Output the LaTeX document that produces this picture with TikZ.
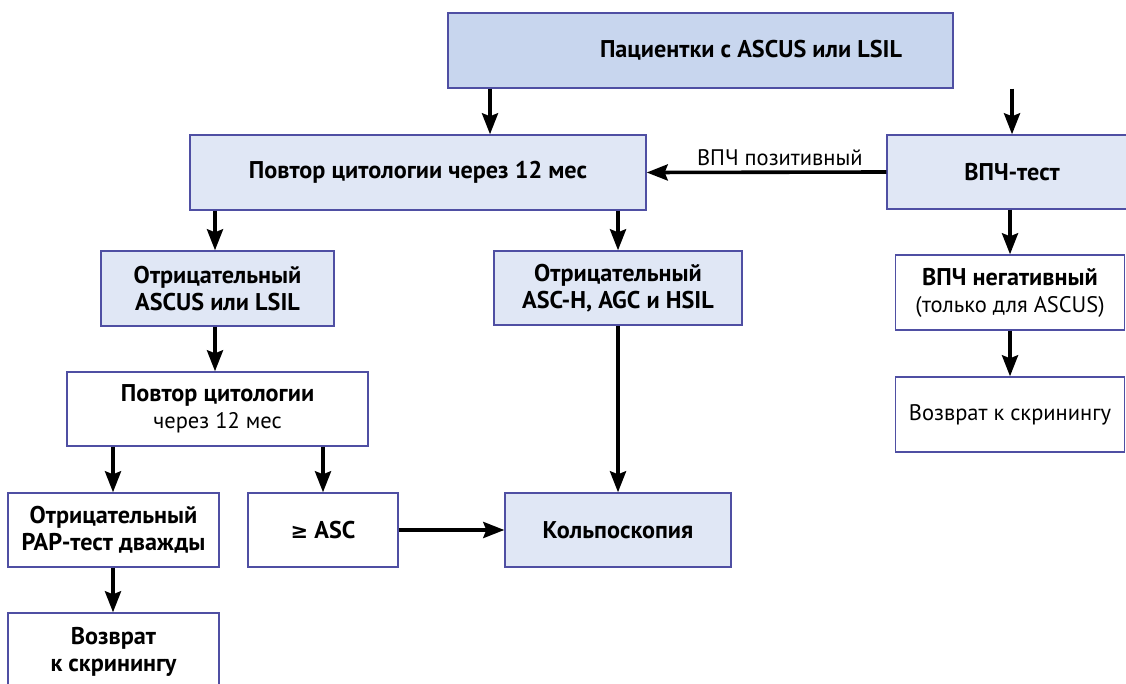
\documentclass[tikz,border=0pt]{standalone}
\usepackage{fontspec}
\setmainfont{PT Sans}
\newfontfamily\symfont{DejaVu Sans}
\usetikzlibrary{arrows.meta}
\definecolor{topfill}{HTML}{C8D6EE}
\definecolor{boxfill}{HTML}{E0E7F5}
\definecolor{edgecol}{HTML}{4F4FA3}
\newcommand{\regtext}{\fontsize{22.5}{27}\selectfont\mdseries}
\begin{document}
\begin{tikzpicture}[x=1pt,y=-1pt,
  box/.style={draw=edgecol, line width=1.4pt, inner sep=0pt, align=center,
    font=\fontsize{24.2}{27}\selectfont\bfseries},
  bluebox/.style={box, fill=boxfill},
  whitebox/.style={box, fill=white},
  lbl/.style={inner sep=0pt, font=\regtext},
  arr/.style={line width=3.6pt, -{Stealth[length=21pt,width=16pt,inset=3pt]}}]
\useasboundingbox (0,0) rectangle (1126,684);
\clip (0,0) rectangle (1126,684);
% boxes
\node[box, fill=topfill, minimum width=505pt, minimum height=75pt] (top) at (700.5,50.5) {};
\node[lbl, font=\fontsize{24.2}{27}\selectfont\bfseries] (toptext) at (751,50.5) {Пациентки с ASCUS или LSIL};
\node[bluebox, minimum width=456pt, minimum height=75pt] (rep1) at (418,172.5) {Повтор цитологии через 12 мес};
\node[bluebox, minimum width=250pt, minimum height=74pt] (hpv) at (1012,172) {ВПЧ-тест};
\node[bluebox, minimum width=233pt, minimum height=75pt] (neg1) at (217.5,288.5) {Отрицательный\\ASCUS или LSIL};
\node[bluebox, minimum width=248pt, minimum height=74pt] (neg2) at (618,288) {Отрицательный\\ASC-H, AGC и HSIL};
\node[whitebox, minimum width=229pt, minimum height=75pt] (hpvneg) at (1010,292.5) {ВПЧ негативный\\{\regtext (только для ASCUS)}};
\node[whitebox, minimum width=229pt, minimum height=75pt, font=\regtext] (ret1) at (1010,414.5) {Возврат к скринингу};
\node[whitebox, minimum width=301pt, minimum height=74pt] (rep2) at (217.5,409) {Повтор цитологии\\{\regtext через 12 мес}};
\node[whitebox, minimum width=211pt, minimum height=74pt] (pap) at (113.5,530) {Отрицательный\\PAP-тест дважды};
\node[whitebox, minimum width=150pt, minimum height=74pt] (asc) at (323,530) {{\symfont\fontsize{21}{27}\selectfont\bfseries ≥} ASC};
\node[bluebox, minimum width=226pt, minimum height=74pt] (colpo) at (618,530) {Кольпоскопия};
\node[whitebox, minimum width=211pt, minimum height=78pt] (ret2) at (113.5,652) {Возврат\\к скринингу};
% helper coordinates
\coordinate (c1) at (490,0);
\coordinate (c2) at (215,0);
\coordinate (c3) at (113,0);
\coordinate (c4) at (323,0);
% arrows
\draw[arr] (top.south -| c1) -- (rep1.north -| c1);
\draw[arr] (top.south -| hpv.north) -- (hpv.north);
\draw[arr] (hpv.west) -- node[lbl, above=5pt, pos=0.444] (pos) {ВПЧ позитивный} (rep1.east);
\draw[arr] (rep1.south -| c2) -- (neg1.north -| c2);
\draw[arr] (rep1.south -| neg2.north) -- (neg2.north);
\draw[arr] (hpv.south -| hpvneg.north) -- (hpvneg.north);
\draw[arr] (hpvneg.south) -- (ret1.north);
\draw[arr] (neg1.south -| c2) -- (rep2.north -| c2);
\draw[arr] (rep2.south -| c3) -- (pap.north -| c3);
\draw[arr] (rep2.south -| c4) -- (asc.north -| c4);
\draw[arr] (neg2.south) -- (colpo.north);
\draw[arr] (asc.east) -- (colpo.west);
\draw[arr] (pap.south -| c3) -- (ret2.north -| c3);
\end{tikzpicture}
\end{document}
